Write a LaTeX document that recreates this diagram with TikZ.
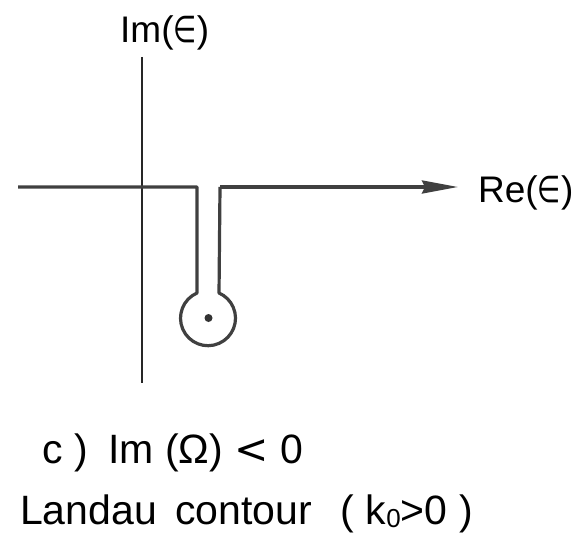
\documentclass[tikz,border=0pt]{standalone}
\usepackage{fontspec}
\setmainfont{Liberation Sans}
\newfontfamily\symfont{DejaVu Sans}
\newcommand{\elem}{\scalebox{0.72}[1]{\symfont ∈}}
\usetikzlibrary{arrows.meta}
\begin{document}
\begin{tikzpicture}[x=1pt,y=1pt,
  axis/.style={line width=1.6pt,black!85},
  contour/.style={line width=3.2pt,black!75,line join=round},
  lbl/.style={inner sep=0pt,font=\fontsize{37}{44}\selectfont},
  big/.style={inner sep=0pt,font=\fontsize{41}{48}\selectfont}]
\useasboundingbox (0,0) rectangle (582,-535);
% axes
\coordinate (vtop) at (142,-57);
\coordinate (vbot) at (142,-383);
\draw[axis] (vtop) -- (vbot);
\coordinate (hleft) at (18,-187);
\coordinate (gapL) at (197,-187);
\coordinate (gapR) at (220,-187);
\coordinate (htip) at (458,-187);
\coordinate (circc) at (208.5,-318);
\coordinate (dropL) at (197,-293);
\coordinate (dropR) at (220,-293);
\draw[contour] (hleft) -- (gapL) -- (dropL)
  arc[start angle=113.6,end angle=426.4,radius=27.5] -- (gapR);
\draw[contour,-{Stealth[length=36pt,width=13pt,inset=3pt]}] (gapR) -- (htip);
\fill[black!80] (circc) circle (4);
% labels
\node[lbl,anchor=base west] (im) at (120,-43) {Im(\elem)};
\node[lbl,anchor=base west] (re) at (478,-202) {Re(\elem)};
\node[big,anchor=base west] (l1) at (42,-463) {c )\hspace{0.5em}Im (Ω) {\symfont <} 0};
\node[big,anchor=base west] (l2) at (20,-524) {Landau\hspace{0.45em}contour\hspace{0.7em}( k\raisebox{-0.15ex}{\fontsize{26}{28}\selectfont 0}>0 )};
\end{tikzpicture}
\end{document}
